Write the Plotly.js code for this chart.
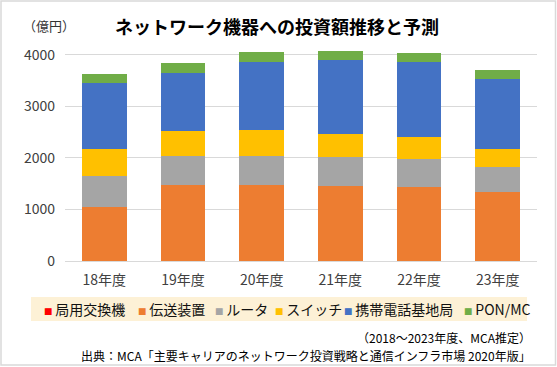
<!DOCTYPE html>
<html>
<head>
<meta charset="utf-8">
<script src="https://cdn.plot.ly/plotly-3.0.1.min.js"></script>
<style>
html,body{margin:0;padding:0;background:#fff;}
#chart{width:557px;height:367px;}
</style>
</head>
<body>
<div id="chart"></div>
<script>
// ---- data ----
const categories = ["18年度", "19年度", "20年度", "21年度", "22年度", "23年度"];
const seriesNames = ["局用交換機", "伝送装置", "ルータ", "スイッチ", "携帯電話基地局", "PON/MC"];
const seriesColors = ["#ff0000", "#ed7d31", "#a5a5a5", "#ffc000", "#4472c4", "#70ad47"];
const kyokuyou   = [0, 0, 0, 0, 0, 0];
const densou     = [1050, 1482, 1476, 1462, 1437, 1346];
const router     = [606, 561, 567, 555, 547, 470];
const switchVals = [522, 470, 489, 451, 426, 362];
const kichikyoku = [1277, 1135, 1329, 1432, 1451, 1354];
const ponmc      = [180, 193, 193, 173, 174, 174];
const yTicks = [0, 1000, 2000, 3000, 4000];
const titleText = "ネットワーク機器への投資額推移と予測";
const unitText = "（億円）";
const noteText = "（2018～2023年度、MCA推定）";
const sourceText = "出典：MCA「主要キャリアのネットワーク投資戦略と通信インフラ市場 2020年版」";

const seriesValues = [kyokuyou, densou, router, switchVals, kichikyoku, ponmc];

// ---- layout helpers ----
const W = 557, H = 367;
const M = {l: 65, r: 20, t: 47, b: 106};
const PW = W - M.l - M.r, PH = H - M.t - M.b;
const px = x => (x - M.l) / PW;
const py = y => (H - M.b - y) / PH;
const FONT = '"Noto Sans CJK JP", "Noto Sans", sans-serif';

const traces = seriesValues.map((vals, i) => ({
  type: 'bar',
  name: seriesNames[i],
  x: categories,
  y: vals,
  marker: {color: seriesColors[i], line: {width: 0}},
  hoverinfo: 'skip'
}));

const legendX = [43, 137, 214, 274, 343, 463];
const annotations = [
  {text: titleText, x: px(277), y: py(26), xref: 'paper', yref: 'paper', xanchor: 'center', yanchor: 'middle', showarrow: false,
   font: {family: FONT, size: 18, color: '#000', weight: 'bold'}},
  {text: unitText, x: px(21), y: py(26), xref: 'paper', yref: 'paper', xanchor: 'left', yanchor: 'middle', showarrow: false,
   font: {family: FONT, size: 13, color: '#333'}},
  {text: noteText, x: px(533), y: py(337), xref: 'paper', yref: 'paper', xanchor: 'right', yanchor: 'middle', showarrow: false,
   font: {family: FONT, size: 12, color: '#000'}},
  {text: sourceText, x: px(533), y: py(355), xref: 'paper', yref: 'paper', xanchor: 'right', yanchor: 'middle', showarrow: false,
   font: {family: FONT, size: 12, color: '#000'}}
];
seriesNames.forEach((n, i) => {
  annotations.push({
    text: '<span style="color:' + seriesColors[i] + ';font-size:8.5px">■</span>\u2009' + n,
    x: px(legendX[i] - 1), y: py(309), xref: 'paper', yref: 'paper', xanchor: 'left', yanchor: 'middle', showarrow: false,
    font: {family: FONT, size: 14, color: '#111'}
  });
});

const shapes = [
  {type: 'rect', xref: 'paper', yref: 'paper', x0: px(31), x1: px(527), y0: py(297), y1: py(321),
   fillcolor: '#fdf1d6', line: {width: 0}, layer: 'below'},
  {type: 'rect', xref: 'paper', yref: 'paper', x0: px(1), x1: px(555.5), y0: py(1), y1: py(365),
   fillcolor: 'rgba(0,0,0,0)', line: {width: 1.5, color: '#d9d9d9'}}
];

const layout = {
  width: W, height: H,
  margin: M,
  paper_bgcolor: '#fff', plot_bgcolor: '#fff',
  barmode: 'stack',
  bargap: 0.43,
  showlegend: false,
  font: {family: FONT, size: 14, color: '#404040'},
  xaxis: {
    type: 'category', showgrid: false, showline: false, zeroline: false, ticks: '',
    tickfont: {family: FONT, size: 14, color: '#404040'}, ticklabelstandoff: 9, fixedrange: true
  },
  yaxis: {
    range: [0, 4150], tickvals: yTicks, ticktext: yTicks.map(String),
    showgrid: true, gridcolor: '#d9d9d9', gridwidth: 1, zeroline: true, zerolinecolor: '#d9d9d9', zerolinewidth: 1,
    showline: false, ticks: '', tickfont: {family: FONT, size: 14, color: '#404040'}, ticklabelstandoff: 9, fixedrange: true
  },
  annotations: annotations,
  shapes: shapes
};

Plotly.newPlot('chart', traces, layout, {staticPlot: true, displayModeBar: false});
</script>
</body>
</html>
